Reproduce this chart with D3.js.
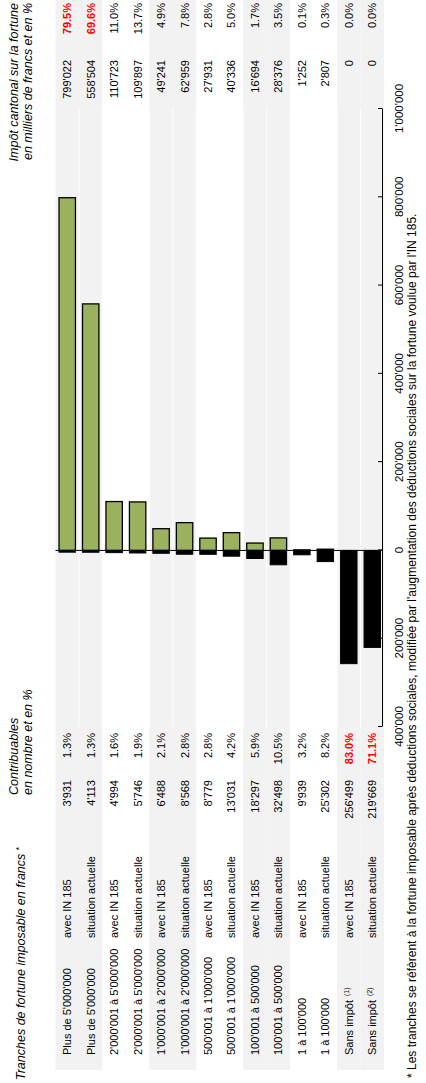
<!DOCTYPE html>
<html lang="fr">
<head>
<meta charset="UTF-8">
<title>Impôt cantonal sur la fortune</title>
<script src="https://d3js.org/d3.v7.min.js"></script>
<style>
body { margin: 0; background: #fff; }
svg { display: block; font-family: "Liberation Sans", Arial, sans-serif; }
</style>
</head>
<body>
<div id="chart"></div>
<script>
// tranches de fortune, deux lignes par tranche
var tranches = ["Plus de 5'000'000", "Plus de 5'000'000",
	"2'000'001 à 5'000'000", "2'000'001 à 5'000'000",
	"1'000'001 à 2'000'000", "1'000'001 à 2'000'000",
	"500'001 à 1'000'000", "500'001 à 1'000'000",
	"100'001 à 500'000", "100'001 à 500'000",
	"1 à 100'000", "1 à 100'000",
	"Sans impôt", "Sans impôt"];
var renvois = ["", "", "", "", "", "", "", "", "", "", "", "", "(1)", "(2)"];
var variantes = ["avec IN 185", "situation actuelle"];
var contribuables = [3931, 4113, 4994, 5746, 6488, 8568, 8779, 13031, 18297, 32498, 9939, 25302, 256499, 219669];
var contribPct = [1.3, 1.3, 1.6, 1.9, 2.1, 2.8, 2.8, 4.2, 5.9, 10.5, 3.2, 8.2, 83.0, 71.1];
var impot = [799022, 558504, 110723, 109897, 49241, 62959, 27931, 40336, 16694, 28376, 1252, 2807, 0, 0];
var impotPct = [79.5, 69.6, 11.0, 13.7, 4.9, 7.8, 2.8, 5.0, 1.7, 3.5, 0.1, 0.3, 0.0, 0.0];
var ticks = [-400000, -200000, 0, 200000, 400000, 600000, 800000, 1000000];

var note = "* Les tranches se réfèrent à la fortune imposable après déductions sociales, modifiée par l'augmentation des déductions sociales sur la fortune voulue par l'IN 185.";

// le tableau est dessine a plat (1083 x 426) puis tourne d'un quart de tour
var W = 1083, H = 426;
var fs = 11, hs = 12.5;
var locale = d3.formatLocale({decimal: ".", thousands: "'", grouping: [3], currency: ["", ""]});
var fmt = locale.format(",");
var pct = d3.format(".1f");

var svg = d3.select("#chart").append("svg")
	.attr("width", H)
	.attr("height", W);
var g = svg.append("g")
	.attr("transform", "translate(0," + W + ") rotate(-90)");

var rows = d3.range(tranches.length);
var y = d3.scaleBand().domain(rows).range([55.5, 384]);
var yBar = d3.scaleBand().domain(rows).range([55.5, 384]).paddingInner(0.3).paddingOuter(0.15);
var x = d3.scaleLinear().domain([-400000, 1000000]).range([356, 974]);

// fonds gris une paire sur deux
g.selectAll(".band")
	.data(rows.filter(function(i) { return Math.floor(i / 2) % 2 == 0; }))
	.enter().append("rect")
	.attr("x", 13)
	.attr("y", function(i) { return y(i); })
	.attr("width", W - 13)
	.attr("height", y.bandwidth())
	.attr("fill", "#f2f2f2");

// separateurs des lignes dans la zone du graphique
g.selectAll(".sep")
	.data(rows.slice(1))
	.enter().append("line")
	.attr("x1", x.range()[0])
	.attr("x2", 974)
	.attr("y1", function(i) { return y(i); })
	.attr("y2", function(i) { return y(i); })
	.attr("stroke", "#fff")
	.attr("stroke-width", 1);

// barres : impot en vert, contribuables en noir vers la gauche
g.selectAll(".impot")
	.data(rows)
	.enter().append("rect")
	.attr("x", x(0))
	.attr("y", function(i) { return yBar(i); })
	.attr("width", function(i) { return x(impot[i]) - x(0); })
	.attr("height", yBar.bandwidth())
	.attr("fill", "#9bb15e")
	.attr("stroke", function(i) { return impot[i] > 0 ? "#000" : "none"; })
	.attr("stroke-width", 1.3);

g.selectAll(".contrib")
	.data(rows)
	.enter().append("rect")
	.attr("x", function(i) { return x(-contribuables[i]); })
	.attr("y", function(i) { return yBar(i); })
	.attr("width", function(i) { return x(0) - x(-contribuables[i]); })
	.attr("height", yBar.bandwidth())
	.attr("fill", "#000")
	.attr("stroke", "#000")
	.attr("stroke-width", 1);

// ligne du zero
g.append("line")
	.attr("x1", x(0)).attr("x2", x(0))
	.attr("y1", 55.5).attr("y2", 382)
	.attr("stroke", "#000")
	.attr("stroke-width", 1);

// axe
var axis = g.append("g")
	.attr("transform", "translate(0,382)")
	.call(d3.axisBottom(x)
		.tickValues(ticks)
		.tickSizeInner(-4)
		.tickSizeOuter(0)
		.tickPadding(13)
		.tickFormat(function(d) { return fmt(Math.abs(d)); }));
axis.attr("font-family", null).attr("font-size", null);
axis.selectAll("text")
	.attr("font-size", 11.5)
	.attr("fill", "#000");
axis.selectAll("line, path").attr("stroke", "#000");

// colonnes de texte
function col(cls, xpos, anchor, txt, red) {
	g.selectAll("." + cls)
		.data(rows)
		.enter().append("text")
		.attr("class", cls)
		.attr("x", xpos)
		.attr("y", function(i) { return y(i) + y.bandwidth() / 2 + 4; })
		.attr("text-anchor", anchor)
		.attr("font-size", fs)
		.attr("fill", function(i) { return red && red(i) ? "#ff0000" : "#000"; })
		.attr("font-weight", function(i) { return red && red(i) ? "bold" : "normal"; })
		.text(txt);
}

col("tr", 28, "start", function(i) { return tranches[i]; });
g.selectAll(".tr").filter(function(i) { return renvois[i] != ""; })
	.append("tspan")
	.attr("dx", 4)
	.attr("dy", -4)
	.attr("font-size", 7)
	.text(function(i) { return renvois[i]; });
col("va", 145, "start", function(i) { return variantes[i % 2]; });
col("nb", 303, "end", function(i) { return fmt(contribuables[i]); });
col("nbp", 350, "end", function(i) { return pct(contribPct[i]) + "%"; }, function(i) { return contribPct[i] > 50; });
col("im", 1023, "end", function(i) { return fmt(impot[i]); });
col("imp", 1080, "end", function(i) { return pct(impotPct[i]) + "%"; }, function(i) { return impotPct[i] > 50; });

// en-tetes
var h1 = g.append("text")
	.attr("x", 3).attr("y", 24.5)
	.attr("font-size", hs)
	.attr("font-style", "italic")
	.text("Tranches de fortune imposable en francs");
h1.append("tspan").attr("dx", 3).attr("dy", -3).attr("font-size", 9).text("*");

g.append("text")
	.attr("x", 288).attr("y", 18)
	.attr("font-size", hs)
	.attr("font-style", "italic")
	.text("Contribuables");
g.append("text")
	.attr("x", 288).attr("y", 32)
	.attr("font-size", hs)
	.attr("font-style", "italic")
	.text("en nombre et en %");

g.append("text")
	.attr("x", 1080).attr("y", 18)
	.attr("text-anchor", "end")
	.attr("font-size", hs)
	.attr("font-style", "italic")
	.text("Impôt cantonal sur la fortune");
g.append("text")
	.attr("x", 1080).attr("y", 32)
	.attr("text-anchor", "end")
	.attr("font-size", hs)
	.attr("font-style", "italic")
	.text("en milliers de francs et en %");

// note de bas
g.append("text")
	.attr("x", 5).attr("y", 416)
	.attr("font-size", 12)
	.text(note);
</script>
</body>
</html>
